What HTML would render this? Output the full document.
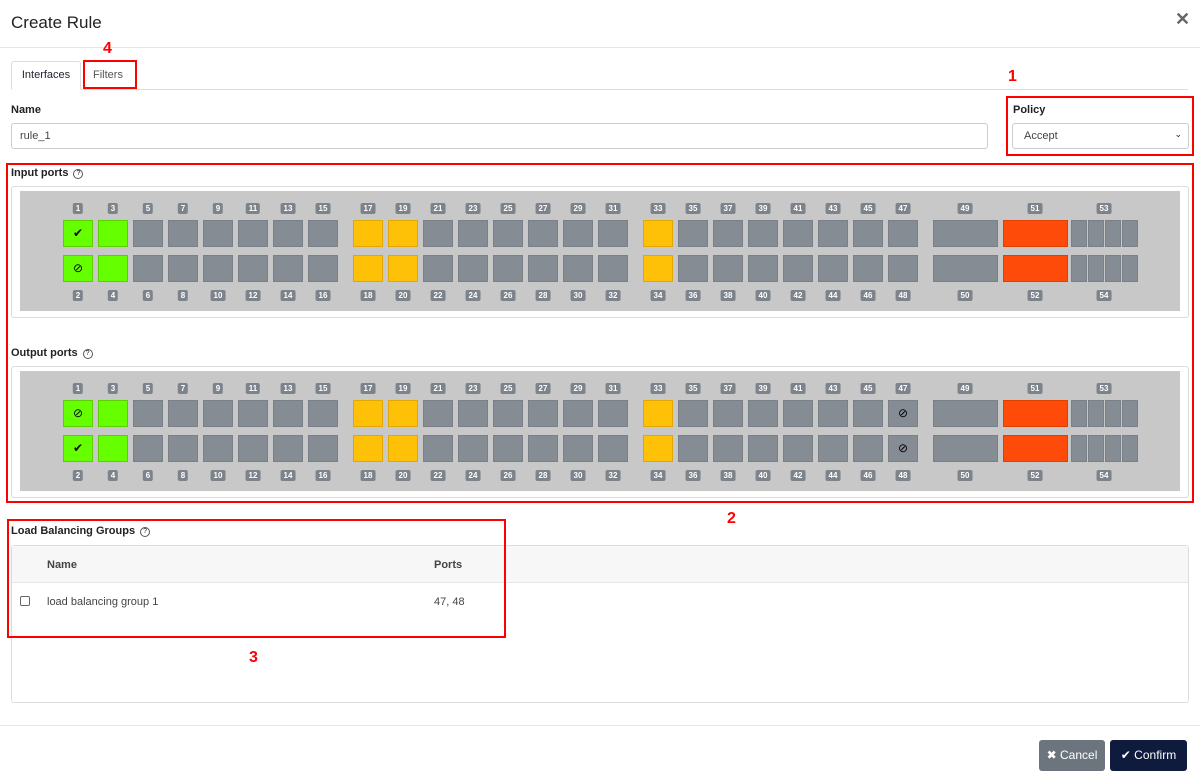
<!DOCTYPE html>
<html><head><meta charset="utf-8"><style>
*{box-sizing:border-box;margin:0;padding:0}
body{width:1200px;height:783px;background:#fff;font-family:"Liberation Sans",sans-serif;color:#333;position:relative;overflow:hidden}
.a{position:absolute}
.red{position:absolute;border:2px solid #f00}
.rn{position:absolute;color:#f00;font-weight:bold;font-size:16px}
.lbl{position:absolute;font-size:11px;font-weight:bold;color:#222}
.q{display:inline-block;width:10px;height:10px;border:1px solid #555;border-radius:50%;font-size:7px;text-align:center;line-height:8px;margin-left:5px;font-weight:normal;vertical-align:1px}
.box{position:absolute;border:1px solid #ddd;border-radius:3px}
.gray{position:absolute;background:#c8c8c8}
.p{position:absolute;width:30px;height:27px;background:#868c94;border:1px solid #7a8088;font-size:12px;text-align:center;line-height:25px;color:#000}
.g{background:#66ff00;border-color:#5ad000}
.y{background:#ffc107;border-color:#e0a800}
.o{background:#ff4b0a;border-color:#e04000}
.n{position:absolute;height:11px;background:#7d838b;color:#fff;font-size:8px;font-weight:bold;line-height:11px;text-align:center;border-radius:2px;padding:0 3px;transform:translateX(-50%)}
</style></head><body>
<div class="a" style="left:11px;top:13px;font-size:17px;color:#222">Create Rule</div>
<div class="a" style="left:1175px;top:9px;font-size:18px;color:#666;font-weight:bold">✕</div>
<div class="a" style="left:0;top:47px;width:1200px;height:1px;background:#e5e5e5"></div>
<div class="a" style="left:11px;top:61px;width:70px;height:29px;border:1px solid #ddd;border-bottom:1px solid #fff;border-radius:3px 3px 0 0;background:#fff;font-size:11px;color:#223;line-height:27px;text-align:center;z-index:2">Interfaces</div>
<div class="a" style="left:11px;top:89px;width:1177px;height:1px;background:#ddd"></div>
<div class="a" style="left:93px;top:69px;font-size:11px;color:#555">Filters</div>
<div class="red" style="left:83px;top:60px;width:54px;height:29px"></div>
<div class="rn" style="left:103px;top:40px">4</div>
<div class="lbl" style="left:11px;top:104px">Name</div>
<div class="a" style="left:11px;top:123px;width:977px;height:26px;border:1px solid #ccc;border-radius:3px;font-size:11px;color:#444;padding:6px 8px">rule_1</div>
<div class="red" style="left:1006px;top:96px;width:188px;height:60px"></div>
<div class="rn" style="left:1008px;top:68px">1</div>
<div class="lbl" style="left:1013px;top:104px">Policy</div>
<div class="a" style="left:1012px;top:123px;width:177px;height:26px;border:1px solid #ccc;border-radius:3px;font-size:11px;color:#444;padding:6px 11px">Accept<span style="position:absolute;right:6px;top:5px;font-size:9px;color:#222">⌄</span></div>
<div class="red" style="left:6px;top:163px;width:1188px;height:340px"></div>
<div class="rn" style="left:727px;top:510px">2</div>
<div class="lbl" style="left:11px;top:167px">Input ports<span class="q">?</span></div>
<div class="box" style="left:11px;top:186px;width:1178px;height:132px"></div>
<div class="gray" id="g1" style="left:20px;top:191px;width:1160px;height:120px"></div>
<div class="lbl" style="left:11px;top:347px">Output ports<span class="q">?</span></div>
<div class="box" style="left:11px;top:366px;width:1178px;height:132px"></div>
<div class="gray" id="g2" style="left:20px;top:371px;width:1160px;height:120px"></div>
<div class="box" style="left:11px;top:545px;width:1178px;height:158px"></div>
<div class="a" style="left:12px;top:546px;width:1176px;height:37px;background:#f7f7f7;border-bottom:1px solid #e8e8e8"></div>
<div class="a" style="left:47px;top:559px;font-size:11px;font-weight:bold;color:#444">Name</div>
<div class="a" style="left:434px;top:559px;font-size:11px;font-weight:bold;color:#444">Ports</div>
<div class="a" style="left:20px;top:596px;width:10px;height:10px;border:1px solid #666;border-radius:2px"></div>
<div class="a" style="left:47px;top:596px;font-size:11px;color:#444">load balancing group 1</div>
<div class="a" style="left:434px;top:596px;font-size:11px;color:#444">47, 48</div>
<div class="lbl" style="left:11px;top:525px">Load Balancing Groups<span class="q">?</span></div>
<div class="red" style="left:7px;top:519px;width:499px;height:119px"></div>
<div class="rn" style="left:249px;top:649px">3</div>
<div class="a" style="left:0;top:725px;width:1200px;height:1px;background:#e5e5e5"></div>
<div class="a" style="left:1039px;top:740px;width:66px;height:31px;background:#6c757d;border-radius:3px;color:#fff;font-size:12px;line-height:31px;text-align:center">✖ Cancel</div>
<div class="a" style="left:1110px;top:740px;width:77px;height:31px;background:#0f1b3d;border-radius:3px;color:#fff;font-size:12px;line-height:31px;text-align:center">✔ Confirm</div>
<script>
function build(id,top,out){
 var h='',L=20;
 function P(x,y,w,cls,t){h+='<div class="p '+cls+'" style="left:'+(x-L)+'px;top:'+y+'px;width:'+w+'px">'+(t||'')+'</div>';}
 function N(x,y,t){h+='<div class="n" style="left:'+(x-L)+'px;top:'+y+'px">'+t+'</div>';}
 var r1=220-top,r2=255-top,l1=203-top,l2=290-top;
 var groups=[[63,1],[353,17],[643,33]];
 groups.forEach(function(g){
  for(var i=0;i<8;i++){
   var x=g[0]+35*i,n=g[1]+2*i,c='';
   if(n<=3)c='g';else if(g[1]==17&&n<=19)c='y';else if(n==33)c='y';
   var t1='',t2='';
   if(n==1){t1=out?'⊘':'✔';t2=out?'✔':'⊘';}
   if(n==47&&out){t1='⊘';t2='⊘';}
   P(x,r1,30,c,t1);P(x,r2,30,c,t2);
   N(x+15,l1,n);N(x+15,l2,n+1);
  }
 });
 P(933,r1,65,'');P(933,r2,65,'');N(965,l1,49);N(965,l2,50);
 P(1003,r1,65,'o');P(1003,r2,65,'o');N(1035,l1,51);N(1035,l2,52);
 [1071,1088,1105,1122].forEach(function(x){P(x,r1,16,'');P(x,r2,16,'');});
 N(1104,l1,53);N(1104,l2,54);
 document.getElementById(id).innerHTML=h;
}
build('g1',191,false);build('g2',191,true);
</script>
</body></html>
